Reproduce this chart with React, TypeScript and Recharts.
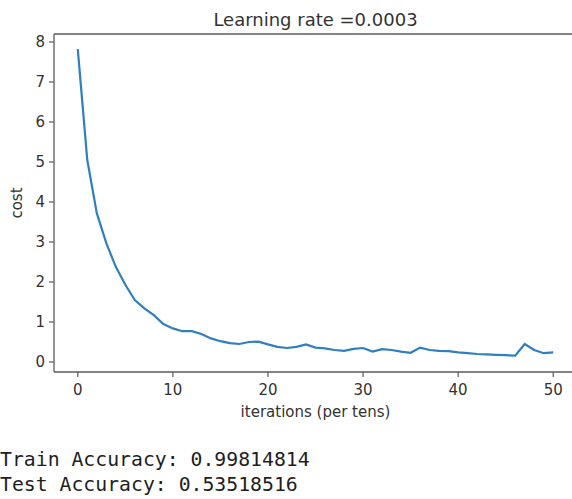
import React from "react";
import { LineChart, Line, XAxis, YAxis, Label, ReferenceLine } from "recharts";

const iterations = [
  0, 1, 2, 3, 4, 5, 6, 7, 8, 9, 10, 11, 12, 13, 14, 15, 16, 17, 18, 19, 20,
  21, 22, 23, 24, 25, 26, 27, 28, 29, 30, 31, 32, 33, 34, 35, 36, 37, 38, 39,
  40, 41, 42, 43, 44, 45, 46, 47, 48, 49, 50,
];
const costs = [
  7.82, 5.05, 3.72, 2.97, 2.38, 1.93, 1.55, 1.34, 1.17, 0.95, 0.84, 0.77, 0.77,
  0.7, 0.59, 0.52, 0.47, 0.45, 0.5, 0.51, 0.44, 0.38, 0.35, 0.38, 0.44, 0.36,
  0.34, 0.3, 0.28, 0.33, 0.35, 0.26, 0.32, 0.3, 0.26, 0.23, 0.36, 0.3, 0.28,
  0.27, 0.24, 0.22, 0.2, 0.19, 0.18, 0.17, 0.16, 0.45, 0.3, 0.22, 0.24,
];
const xTicks = [0, 10, 20, 30, 40, 50];
const yTicks = [0, 1, 2, 3, 4, 5, 6, 7, 8];
const yMax = 8.2;
const yMin = -0.25;
const title = "Learning rate =0.0003";
const xLabel = "iterations (per tens)";
const yLabel = "cost";
const outputLines = ["Train Accuracy: 0.99814814", "Test Accuracy: 0.53518516"];

const data = iterations.map((it, i) => ({ iteration: it, cost: costs[i] }));

const FONT = "'DejaVu Sans', sans-serif";
const SPINE = "#5a5a5a";
const TEXT = "#333";
const tickStyle = { fontSize: 15, fill: TEXT, fontFamily: FONT };

export default function App() {
  return (
    <div
      style={{
        position: "absolute",
        left: 0,
        top: 0,
        width: 572,
        height: 499,
        overflow: "hidden",
        background: "#fff",
      }}
    >
      <LineChart
        width={600}
        height={499}
        data={data}
        margin={{ top: 34, right: 23, bottom: 97, left: 0 }}
      >
        <XAxis
          dataKey="iteration"
          type="number"
          domain={[-2.5, 52.5]}
          ticks={xTicks}
          height={30}
          tickSize={5}
          tickMargin={7}
          tick={tickStyle}
          axisLine={{ stroke: SPINE, strokeWidth: 1.3 }}
          tickLine={{ stroke: SPINE, strokeWidth: 1.2 }}
        >
          <Label
            content={(props: any) => {
              const vb = props.viewBox || {};
              return (
                <text
                  x={vb.x + vb.width / 2}
                  y={417}
                  textAnchor="middle"
                  fontSize={15}
                  fontFamily={FONT}
                  fill={TEXT}
                >
                  {xLabel}
                </text>
              );
            }}
          />
        </XAxis>
        <YAxis
          type="number"
          domain={[yMin, yMax]}
          ticks={yTicks}
          width={54}
          tickSize={5}
          tickMargin={4}
          tick={tickStyle}
          axisLine={{ stroke: SPINE, strokeWidth: 1.3 }}
          tickLine={{ stroke: SPINE, strokeWidth: 1.2 }}
        >
          <Label
            content={(props: any) => {
              const vb = props.viewBox || {};
              const cy = vb.y + vb.height / 2;
              return (
                <text
                  x={22}
                  y={cy}
                  transform={`rotate(-90, 22, ${cy})`}
                  textAnchor="middle"
                  fontSize={15}
                  fontFamily={FONT}
                  fill={TEXT}
                >
                  {yLabel}
                </text>
              );
            }}
          />
        </YAxis>
        <ReferenceLine
          y={yMax}
          stroke={SPINE}
          strokeWidth={1.3}
          ifOverflow="visible"
          label={(props: any) => {
            const vb = props.viewBox || {};
            return (
              <text
                x={vb.x + vb.width / 2}
                y={26}
                textAnchor="middle"
                fontSize={18}
                fontFamily={FONT}
                fill={TEXT}
              >
                {title}
              </text>
            );
          }}
        />
        <ReferenceLine
          x={52.5}
          stroke={SPINE}
          strokeWidth={1.3}
          ifOverflow="visible"
        />
        <Line
          type="linear"
          dataKey="cost"
          stroke="#2f7fc1"
          strokeWidth={2.2}
          dot={false}
          isAnimationActive={false}
        />
      </LineChart>
      {outputLines.map((line, i) => (
        <div
          key={i}
          style={{
            position: "absolute",
            left: 0,
            top: 448 + i * 25,
            fontFamily: "'DejaVu Sans Mono', monospace",
            fontSize: 19.8,
            lineHeight: "24px",
            color: "#1e1e1e",
            whiteSpace: "pre",
          }}
        >
          {line}
        </div>
      ))}
    </div>
  );
}
